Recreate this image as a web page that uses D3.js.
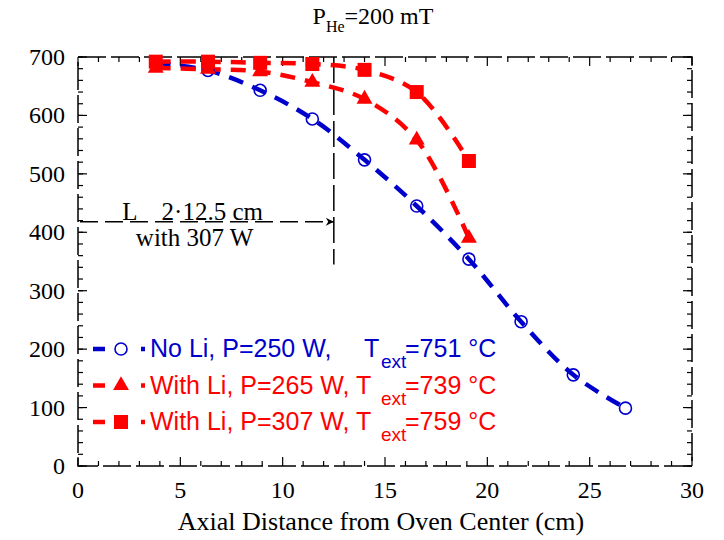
<!DOCTYPE html>
<html>
<head>
<meta charset="utf-8">
<script src="https://cdn.jsdelivr.net/npm/d3@7"></script>
<style>
  body { margin: 0; background: #fff; }
  svg { display: block; }
</style>
</head>
<body>
<div id="chart"></div>
<script>
// data
const distance = [3.8, 6.35, 8.9, 11.45, 14.0, 16.55, 19.1, 21.65, 24.2, 26.75];
const noLi = [690, 677, 643, 594, 524, 445, 354, 247, 156, 99];
const li265 = [681, 679, 675, 657, 628, 558, 390];
const li307 = [692, 692, 690, 688, 678, 640, 522];
const xTicks = [0, 5, 10, 15, 20, 25, 30];
const yTicks = [0, 100, 200, 300, 400, 500, 600, 700];
const heatedLength = 12.5;
const arrowLevel = 418;
const markerBottom = 345;

const W = 724, H = 540;
const margin = { top: 57, right: 32, bottom: 74, left: 78 };
const width = W - margin.left - margin.right;
const height = H - margin.top - margin.bottom;

const blue = "#0000cc", red = "#ff0000";
const serif = "'Liberation Serif', 'Times New Roman', serif";
const sans = "'Liberation Sans', Arial, sans-serif";

const svg = d3.select("#chart").append("svg")
  .attr("width", W).attr("height", H);

const defs = svg.append("defs");
defs.append("marker")
  .attr("id", "arrow")
  .attr("viewBox", "0 0 10 10")
  .attr("refX", 10).attr("refY", 5)
  .attr("markerWidth", 12).attr("markerHeight", 8)
  .attr("markerUnits", "userSpaceOnUse")
  .attr("orient", "auto")
  .append("path").attr("d", "M0,0 L10,5 L0,10 L3,5 Z").attr("fill", "#000");

const g = svg.append("g").attr("transform", `translate(${margin.left},${margin.top})`);

const x = d3.scaleLinear().domain([0, 30]).range([0, width]);
const y = d3.scaleLinear().domain([0, 700]).range([height, 0]);

// ticks (inward, all four sides)
const xMinor = d3.range(0, 31, 1);
const yMinor = d3.range(0, 701, 20);
const tickG = g.append("g").attr("stroke", "#000").attr("stroke-width", 1.2);
xMinor.forEach(v => {
  const len = v % 5 === 0 ? 9 : 5;
  tickG.append("line").attr("x1", x(v)).attr("x2", x(v)).attr("y1", height).attr("y2", height - len);
  tickG.append("line").attr("x1", x(v)).attr("x2", x(v)).attr("y1", 0).attr("y2", len);
});
yMinor.forEach(v => {
  tickG.append("line").attr("x1", 0).attr("x2", 5).attr("y1", y(v)).attr("y2", y(v));
  tickG.append("line").attr("x1", width).attr("x2", width - 5).attr("y1", y(v)).attr("y2", y(v));
});
yTicks.forEach(v => {
  tickG.append("line").attr("x1", 0).attr("x2", 9).attr("y1", y(v)).attr("y2", y(v));
  tickG.append("line").attr("x1", width).attr("x2", width - 9).attr("y1", y(v)).attr("y2", y(v));
});

// frame
g.append("rect")
  .attr("width", width).attr("height", height)
  .attr("fill", "none").attr("stroke", "#000").attr("stroke-width", 1.5)
  .attr("stroke-dasharray", "28,5");

// tick labels
g.append("g").selectAll("text").data(xTicks).join("text")
  .attr("x", d => x(d)).attr("y", height + 32)
  .attr("text-anchor", "middle")
  .attr("font-family", serif).attr("font-size", 24)
  .text(d => d);
g.append("g").selectAll("text").data(yTicks).join("text")
  .attr("x", -13).attr("y", d => y(d) + 8)
  .attr("text-anchor", "end")
  .attr("font-family", serif).attr("font-size", 24)
  .text(d => d);

// axis title
g.append("text")
  .attr("x", width / 2 - 4).attr("y", height + 64)
  .attr("text-anchor", "middle")
  .attr("font-family", serif).attr("font-size", 26)
  .text("Axial Distance from Oven Center (cm)");

// chart title
const title = svg.append("text")
  .attr("x", 373).attr("y", 24)
  .attr("text-anchor", "middle")
  .attr("font-family", serif).attr("font-size", 24);
title.append("tspan").text("P");
title.append("tspan").attr("font-size", 16).attr("dy", 8).text("He");
title.append("tspan").attr("dy", -8).text("=200 mT");

// heated length annotation
g.append("line")
  .attr("x1", x(heatedLength)).attr("x2", x(heatedLength))
  .attr("y1", 0).attr("y2", y(markerBottom))
  .attr("stroke", "#000").attr("stroke-width", 1.5)
  .attr("stroke-dasharray", "26,6");
g.append("line")
  .attr("x1", x(0) + 2).attr("x2", x(heatedLength))
  .attr("y1", y(arrowLevel)).attr("y2", y(arrowLevel))
  .attr("stroke", "#000").attr("stroke-width", 1.5)
  .attr("stroke-dasharray", "18,7")
  .attr("marker-end", "url(#arrow)");
g.append("text")
  .attr("x", x(5.6)).attr("y", y(arrowLevel) - 2)
  .attr("text-anchor", "middle")
  .attr("font-family", serif).attr("font-size", 25)
  .attr("xml:space", "preserve")
  .text("L    2·12.5 cm");
g.append("text")
  .attr("x", x(5.7)).attr("y", y(arrowLevel) + 24)
  .attr("text-anchor", "middle")
  .attr("font-family", serif).attr("font-size", 25)
  .text("with 307 W");

// data lines
const line = d3.line()
  .x(d => x(d[0])).y(d => y(d[1]))
  .curve(d3.curveCatmullRom.alpha(0.5));

const series = [
  { vals: noLi, color: blue, shape: "circle" },
  { vals: li265, color: red, shape: "triangle" },
  { vals: li307, color: red, shape: "square" }
];

series.forEach(s => {
  const pts = s.vals.map((v, i) => [distance[i], v]);
  g.append("path")
    .datum(pts)
    .attr("fill", "none").attr("stroke", s.color)
    .attr("stroke-width", 4.5)
    .attr("stroke-dasharray", "15,10")
    .attr("d", line);
});

function drawMarker(sel, shape, color, cx, cy) {
  if (shape === "circle") {
    sel.append("circle").attr("cx", cx).attr("cy", cy).attr("r", 6)
      .attr("fill", "none").attr("stroke", color).attr("stroke-width", 1.6);
  } else if (shape === "triangle") {
    sel.append("path")
      .attr("transform", `translate(${cx},${cy})`)
      .attr("d", d3.symbol(d3.symbolTriangle, 110)())
      .attr("fill", color);
  } else {
    sel.append("rect").attr("x", cx - 7).attr("y", cy - 7)
      .attr("width", 14).attr("height", 14).attr("fill", color);
  }
}

series.forEach(s => {
  s.vals.forEach((v, i) => drawMarker(g, s.shape, s.color, x(distance[i]), y(v)));
});

// legend
const legend = [
  { color: blue, shape: "circle", text: "No Li, P=250 W,", tx: 364, temp: "=751 °C" },
  { color: red, shape: "triangle", text: "With Li, P=265 W,", tx: 356, temp: "=739 °C" },
  { color: red, shape: "square", text: "With Li, P=307 W,", tx: 356, temp: "=759 °C" }
];
legend.forEach((d, i) => {
  const base = 357 + i * 36.5;
  const cy = base - 8;
  const lg = svg.append("g").attr("fill", d.color)
    .attr("font-family", sans).attr("font-size", 25);
  lg.append("line").attr("x1", 93).attr("x2", 145).attr("y1", cy).attr("y2", cy)
    .attr("stroke", d.color).attr("stroke-width", 4.5)
    .attr("stroke-dasharray", "12,36,4");
  drawMarker(lg, d.shape, d.color, 121, cy);
  lg.append("text").attr("x", 150).attr("y", base).text(d.text);
  lg.append("text").attr("x", d.tx).attr("y", base).text("T");
  lg.append("text").attr("x", 381).attr("y", base + 11).attr("font-size", 19).text("ext");
  lg.append("text").attr("x", 405).attr("y", base).text(d.temp);
});
</script>
</body>
</html>
